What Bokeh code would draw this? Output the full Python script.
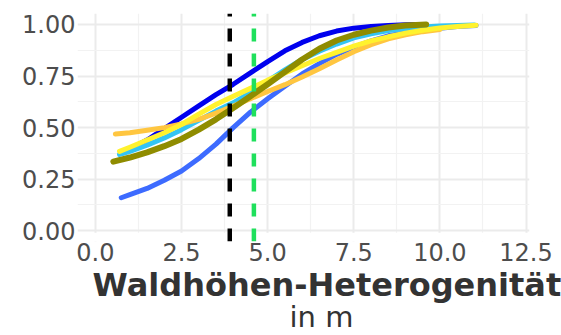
from bokeh.plotting import figure
from bokeh.models import FixedTicker, NumeralTickFormatter, Title, BoxAnnotation
from bokeh.embed import file_html
from bokeh.resources import INLINE

# ---- data ----
x_ticks = [0.0, 2.5, 5.0, 7.5, 10.0, 12.5]
x_minor = [1.25, 3.75, 6.25, 8.75, 11.25]
y_ticks = [0.0, 0.25, 0.5, 0.75, 1.0]
y_minor = [0.125, 0.375, 0.625, 0.875]

blue_x = [0.75, 1.0, 1.5, 2.0, 2.5, 3.0, 3.5, 4.0, 4.5, 5.0, 5.5, 6.0, 6.5, 7.0, 7.5, 8.0, 8.5, 9.0, 9.5]
blue_y = [0.375, 0.395, 0.44, 0.495, 0.55, 0.605, 0.66, 0.71, 0.765, 0.82, 0.872, 0.913, 0.945, 0.968, 0.982, 0.99, 0.995, 0.998, 1.0]

royal_x = [0.75, 1.0, 1.5, 2.0, 2.5, 3.0, 3.5, 4.0, 4.5, 5.0, 5.5, 6.0, 6.5, 7.0, 7.5, 8.0, 8.5, 9.0, 9.5, 10.0, 10.5, 11.05]
royal_y = [0.16, 0.175, 0.205, 0.245, 0.29, 0.35, 0.42, 0.50, 0.575, 0.64, 0.70, 0.76, 0.81, 0.855, 0.89, 0.92, 0.945, 0.96, 0.972, 0.982, 0.99, 0.995]

cyan_x = [0.7, 1.0, 1.5, 2.0, 2.5, 3.0, 3.5, 4.0, 4.5, 5.0, 5.5, 6.0, 6.5, 7.0, 7.5, 8.0, 8.5, 9.0, 9.5, 10.0, 10.5, 11.0]
cyan_y = [0.37, 0.385, 0.415, 0.45, 0.49, 0.535, 0.58, 0.62, 0.67, 0.725, 0.78, 0.83, 0.87, 0.905, 0.935, 0.955, 0.97, 0.98, 0.987, 0.992, 0.995, 0.997]

orange_x = [0.58, 1.0, 1.5, 2.0, 2.5, 3.0, 3.5, 4.0, 4.5, 5.0, 5.5, 6.0, 6.5, 7.0, 7.5, 8.0, 8.5, 9.0, 9.5, 10.0]
orange_y = [0.469, 0.475, 0.487, 0.50, 0.518, 0.54, 0.57, 0.605, 0.64, 0.675, 0.708, 0.745, 0.785, 0.828, 0.868, 0.902, 0.93, 0.95, 0.965, 0.975]

yellow_x = [0.7, 1.0, 1.5, 2.0, 2.5, 3.0, 3.5, 4.0, 4.5, 5.0, 5.5, 6.0, 6.5, 7.0, 7.5, 8.0, 8.5, 9.0, 9.5, 10.0, 10.5, 11.05]
yellow_y = [0.385, 0.405, 0.44, 0.475, 0.515, 0.565, 0.612, 0.652, 0.69, 0.73, 0.765, 0.80, 0.835, 0.865, 0.895, 0.92, 0.94, 0.958, 0.972, 0.983, 0.99, 0.996]

olive_x = [0.52, 1.0, 1.5, 2.0, 2.5, 3.0, 3.5, 4.0, 4.5, 5.0, 5.5, 6.0, 6.5, 7.0, 7.5, 8.0, 8.5, 9.0, 9.6]
olive_y = [0.335, 0.355, 0.38, 0.41, 0.445, 0.49, 0.54, 0.595, 0.652, 0.71, 0.77, 0.83, 0.882, 0.922, 0.95, 0.97, 0.985, 0.995, 1.0]

thresholds = [3.9, 4.6]
threshold_colors = ["#000000", "#1fe05c"]

x_label = "Waldhöhen-Heterogenität"
x_unit = "in m"

# ---- figure ----
x_lo, x_hi = -0.52, 12.6
y_lo, y_hi = -0.052, 1.053

p = figure(frame_width=452, frame_height=228, x_range=(x_lo, x_hi), y_range=(y_lo, y_hi),
           output_backend="svg", toolbar_location=None,
           min_border_left=77, min_border_right=32, min_border_top=13, min_border_bottom=94)
p.background_fill_color = "white"
p.border_fill_color = "white"
p.outline_line_color = None

for ax, ticks, minor, fmt in ((p.xaxis[0], x_ticks, x_minor, "0.0"), (p.yaxis[0], y_ticks, y_minor, "0.00")):
    ax.ticker = FixedTicker(ticks=ticks, minor_ticks=minor)
    ax.formatter = NumeralTickFormatter(format=fmt)
    ax.axis_line_color = None
    ax.major_tick_line_color = None
    ax.minor_tick_line_color = None
    ax.major_tick_out = 0
    ax.major_tick_in = 0
    ax.minor_tick_out = 0
    ax.major_label_text_font = "DejaVu Sans"
    ax.major_label_text_font_size = "24px"
    ax.major_label_text_color = "#4d4d4d"
p.xaxis[0].major_label_standoff = 1
p.yaxis[0].major_label_standoff = 2

for g in (p.xgrid[0], p.ygrid[0]):
    g.grid_line_color = "#ebebeb"
    g.grid_line_width = 2
    g.minor_grid_line_color = "#f2f2f2"
    g.minor_grid_line_width = 1.2

# hide the bottom stub of the vertical grid lines (below the panel grid)
p.add_layout(BoxAnnotation(top=-0.009, fill_color="white", fill_alpha=1.0,
                           line_color=None, level="underlay"))

series = [
    (blue_x, blue_y, "#0000ee", 5),
    (royal_x, royal_y, "#3d6bff", 5),
    (cyan_x, cyan_y, "#33c4f4", 5),
    (orange_x, orange_y, "#ffc640", 5),
    (yellow_x, yellow_y, "#fff22e", 5),
    (olive_x, olive_y, "#8f8c00", 6),
]
for xs, ys, col, w in series:
    p.line(xs, ys, line_color=col, line_width=w, line_cap="round", line_join="round")

for xv, col in zip(thresholds, threshold_colors):
    p.segment(x0=[xv], y0=[y_lo], x1=[xv], y1=[y_hi], line_color=col,
              line_width=4.5, line_dash="13 12")

t1 = Title(text=x_label, align="left", offset=15, standoff=0,
           text_font="DejaVu Sans", text_font_style="bold", text_font_size="32px",
           text_color="#333333")
t2 = Title(text=x_unit, align="left", offset=212, standoff=-12,
           text_font="DejaVu Sans", text_font_style="normal", text_font_size="29px",
           text_color="#333333")
p.add_layout(t1, "below")
p.add_layout(t2, "below")

open("out.html", "w").write(file_html(p, INLINE))
